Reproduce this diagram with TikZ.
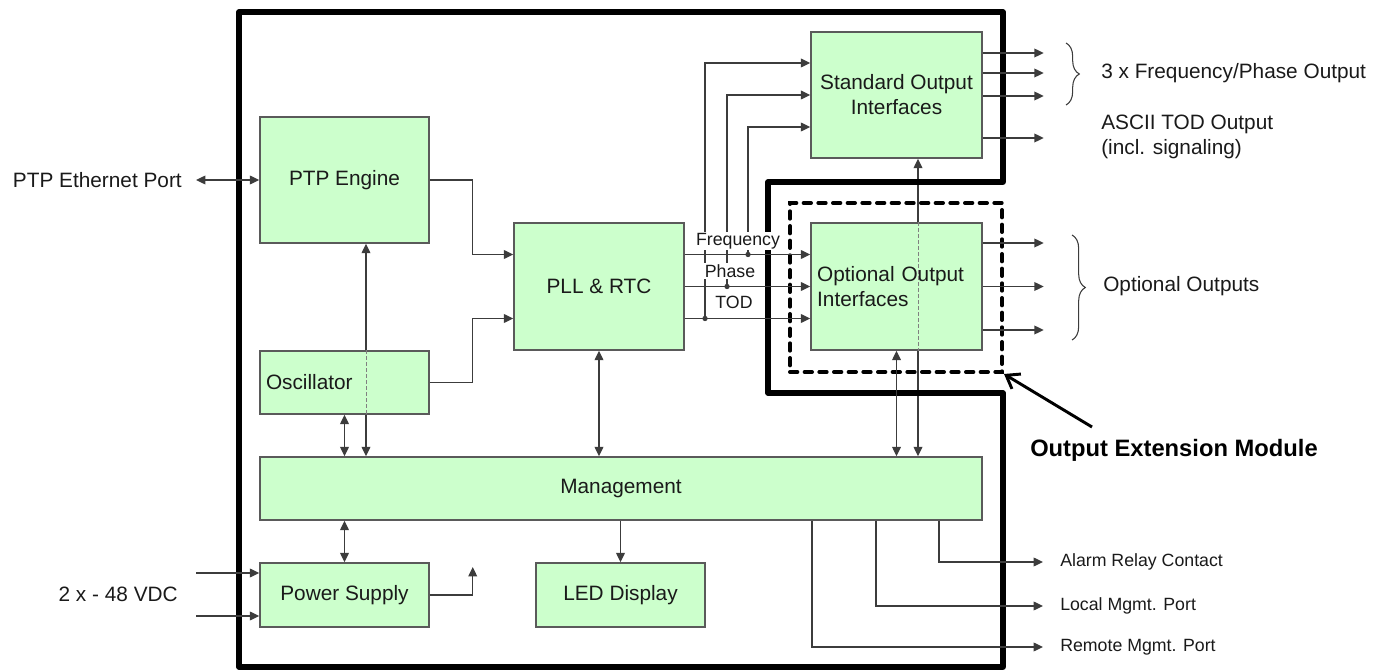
\documentclass[tikz,border=0pt]{standalone}
\usepackage{fontspec}
\setmainfont{Liberation Sans}
\usetikzlibrary{arrows.meta,calc,decorations.pathreplacing}
\pgfdeclarelayer{bg}
\pgfsetlayers{bg,main}
\definecolor{boxg}{HTML}{CCFFCC}
\definecolor{bc}{HTML}{5A5A5A}
\definecolor{lc}{HTML}{3C3C3C}
\definecolor{tc}{HTML}{1A1A1A}
\newcommand{\fsmain}{\fontsize{15.6}{18.7}\selectfont}
\newcommand{\fssmall}{\fontsize{13.3}{16}\selectfont}
\newcommand{\fsbold}{\fontsize{17.8}{21}\selectfont\bfseries}
\begin{document}
\begin{tikzpicture}[x=0.75pt,y=-0.75pt,
  box/.style={draw=bc, fill=boxg, line width=1.1pt, font=\fsmain, text=tc, inner sep=0pt, align=center},
  arr/.style={draw=lc, line width=1pt, -{Triangle[length=7pt,width=6.5pt]}},
  dbl/.style={draw=lc, line width=1pt, {Triangle[length=7pt,width=6.5pt]}-{Triangle[length=7pt,width=6.5pt]}},
  conn/.style={draw=lc, line width=1pt},
  dsh/.style={draw=gray, line width=0.7pt, dash pattern=on 2.5pt off 2pt},
  lbl/.style={font=\fsmain, text=tc, inner sep=0pt},
  slbl/.style={font=\fssmall, text=tc, inner sep=0pt},
  tag/.style={font=\fssmall, text=tc, fill=white, inner sep=1pt},
  frame/.style={draw=black, line width=3.8pt, line join=round},
  dbox/.style={draw=black, line width=3pt, line cap=round, dash pattern=on 5.5pt off 5.5pt},
  brc/.style={draw=lc, line width=0.8pt, decorate, decoration={brace, amplitude=10pt}},
  jdot/.style={fill=lc, circle, inner sep=0pt, minimum size=4pt}
]
\useasboundingbox (0,0) rectangle (1386,670);

% outer frame
\draw[frame] (239,12) -- (1003,12) -- (1003,182) -- (768,182) -- (768,393) -- (1003,393) -- (1003,667) -- (239,667) -- cycle;

% dashed module box
\node[dbox, minimum width=159pt, minimum height=126.75pt] (dmod) at (896,287.5) {};

% blocks
\node[box, minimum width=128.25pt, minimum height=94.5pt] (std) at (896.5,95) {Standard Output\\Interfaces};
\node[box, minimum width=128.25pt, minimum height=95.25pt, text width=119pt, align=left] (opt) at (896.5,286.5) {Optional Output\\Interfaces};
\node[box, minimum width=126.75pt, minimum height=94.5pt] (ptp) at (344.5,180) {PTP Engine};
\node[box, minimum width=126.75pt, minimum height=47.25pt, text width=117.75pt, align=left] (osc) at (344.5,382.5) {Oscillator};
\node[box, minimum width=127.5pt, minimum height=95.25pt] (pll) at (599,286.5) {PLL \& RTC};
\node[box, minimum width=541.5pt, minimum height=47.25pt] (mgmt) at (621,488.5) {Management};
\node[box, minimum width=126.75pt, minimum height=48pt] (ps) at (344.5,595) {Power Supply};
\node[box, minimum width=126.75pt, minimum height=48pt] (led) at (620.5,595) {LED Display};

% long lines passing through blocks
\coordinate (v366) at ($(ptp.south)+(21.5,0)$);
\coordinate (v918) at ($(std.south)+(21.5,0)$);
\begin{pgfonlayer}{bg}
\draw[dbl] (v366) -- (v366 |- mgmt.north);
\draw[dbl] (v918) -- (v918 |- mgmt.north);
\end{pgfonlayer}
\draw[dsh] (v366 |- osc.north) -- (v366 |- osc.south);
\draw[dsh] (v918 |- opt.north) -- (v918 |- opt.south);

% left inputs
\node[lbl, anchor=east] (eth) at (182,180) {PTP Ethernet Port};
\draw[dbl] ($(eth.east)+(14,0)$) -- (ptp.west);
\node[lbl, anchor=east] (vdc) at (178,594) {2 x - 48 VDC};
\draw[arr] ($(ps.west)+(-63,-22)$) -- ($(ps.west)+(0,-22)$);
\draw[arr] ($(ps.west)+(-63,21)$) -- ($(ps.west)+(0,21)$);

% into PLL
\draw[arr] (ptp.east) -- ++(43,0) |- ($(pll.west)+(0,-32)$);
\draw[arr] (osc.east) -- ++(43,0) |- ($(pll.west)+(0,32)$);

% power supply output
\draw[arr] (ps.east) -| ($(ps.east)+(43,-28)$);

% vertical management links
\draw[dbl] (osc.south) -- (osc.south |- mgmt.north);
\draw[dbl] (ps.north |- mgmt.south) -- (ps.north);
\draw[dbl] (pll.south) -- (pll.south |- mgmt.north);
\draw[arr] (mgmt.south -| led.north) -- (led.north);
\draw[dbl] (opt.south) -- (opt.south |- mgmt.north);

% PLL outputs
\draw[arr] ($(pll.east)+(0,-32)$) -- ($(opt.west)+(0,-32)$);
\draw[arr] (pll.east) -- (opt.west);
\draw[arr] ($(pll.east)+(0,32)$) -- ($(opt.west)+(0,32)$);
\coordinate (jF) at (748,254.5);
\coordinate (jP) at (727,286.5);
\coordinate (jT) at (705,318.5);
\draw[arr] (jT) |- ($(std.west)+(0,-32)$);
\draw[arr] (jP) |- (std.west);
\draw[arr] (jF) |- ($(std.west)+(0,32)$);
\node[jdot] at (jF) {};
\node[jdot] at (jP) {};
\node[jdot] at (jT) {};
\node[tag] (tF) at (738,241) {Frequency};
\node[tag] (tP) at (730,271) {Phase};
\node[tag] (tT) at (734,302) {TOD};

% standard outputs
\draw[arr] ($(std.east)+(0,-42)$) -- ++(61,0);
\draw[arr] ($(std.east)+(0,-22)$) -- ++(61,0);
\draw[arr] ($(std.east)+(0,1)$) -- ++(61,0);
\draw[arr] ($(std.east)+(0,43)$) -- ++(61,0);
\draw[brc] (1066,43) -- (1066,105);
\node[lbl, anchor=west] (t3x) at (1101,73) {3 x Frequency/Phase Output};
\node[lbl, anchor=west, align=left] (tascii) at (1101,137) {ASCII TOD Output\\(incl. signaling)};

% optional outputs
\draw[arr] ($(opt.east)+(0,-43.5)$) -- ++(61,0);
\draw[arr] (opt.east) -- ++(61,0);
\draw[arr] ($(opt.east)+(0,43.5)$) -- ++(61,0);
\draw[brc] (1072,235) -- (1072,340);
\node[lbl, anchor=west] (topt) at (1103,286) {Optional Outputs};

% output extension module
\node[font=\fsbold, text=black, inner sep=0pt, anchor=west] (oem) at (1030,450) {Output Extension Module};
\coordinate (oemtail) at (1092,427);
\draw[draw=black, line width=2.2pt, -{Straight Barb[length=9pt,width=13pt]}] (oemtail) -- (dmod.south east);

% management outputs
\node[slbl, anchor=west] (tAl) at (1060,562) {Alarm Relay Contact};
\node[slbl, anchor=west] (tLo) at (1060,606) {Local Mgmt. Port};
\node[slbl, anchor=west] (tRe) at (1060,647) {Remote Mgmt. Port};
\draw[arr] ($(mgmt.south)+(318,0)$) |- ($(tAl.west)+(-17,0)$);
\draw[arr] ($(mgmt.south)+(255,0)$) |- ($(tLo.west)+(-17,0)$);
\draw[arr] ($(mgmt.south)+(191,0)$) |- ($(tRe.west)+(-17,0)$);
\end{tikzpicture}
\end{document}
